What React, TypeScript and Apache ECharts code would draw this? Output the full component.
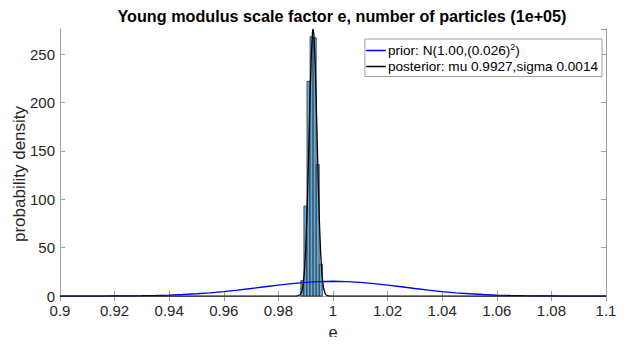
import React, { useEffect, useRef } from "react";
import * as echarts from "echarts";

// Histogram of posterior particles: bin left edge, bin right edge, density
const binLeft = [0.9882, 0.98933, 0.99046, 0.99159, 0.99272, 0.99385, 0.99498];
const binRight = [0.98933, 0.99046, 0.99159, 0.99272, 0.99385, 0.99498, 0.99611];
const binDensity = [16, 93, 222, 268, 267, 136, 33];

// Prior curve N(1.00, 0.026^2)
const priorX = [
  0.9, 0.905, 0.91, 0.915, 0.92, 0.925, 0.93, 0.935, 0.94, 0.945, 0.95, 0.955, 0.96, 0.965, 0.97, 0.975, 0.98,
  0.985, 0.99, 0.995, 1.0, 1.005, 1.01, 1.015, 1.02, 1.025, 1.03, 1.035, 1.04, 1.045, 1.05, 1.055, 1.06, 1.065,
  1.07, 1.075, 1.08, 1.085, 1.09, 1.095, 1.1,
];
const priorY = [
  0.01, 0.02, 0.04, 0.07, 0.14, 0.24, 0.41, 0.67, 1.07, 1.64, 2.41, 3.43, 4.69, 6.2, 7.86, 9.66, 11.38, 12.99,
  14.2, 15.06, 15.34, 15.06, 14.2, 12.99, 11.38, 9.66, 7.86, 6.2, 4.69, 3.43, 2.41, 1.64, 1.07, 0.67, 0.41, 0.24,
  0.14, 0.07, 0.04, 0.02, 0.01,
];

// Posterior curve
const postX = [
  0.9, 0.986, 0.987, 0.988, 0.9885, 0.989, 0.9895, 0.99, 0.9905, 0.991, 0.9915, 0.992, 0.9925, 0.9927, 0.993,
  0.9935, 0.994, 0.9945, 0.995, 0.9955, 0.996, 0.9965, 0.997, 0.9975, 0.998, 0.999, 1.1,
];
const postY = [
  0, 0.01, 0.12, 1.45, 4.2, 10.6, 24.2, 48.7, 87.3, 138.8, 196, 245.6, 273.4, 276, 270.2, 237, 184.6, 127.7,
  78.4, 42.8, 20.7, 8.9, 3.4, 1.15, 0.35, 0, 0,
];

const xTicks = { min: 0.9, max: 1.1, interval: 0.02 };
const yTicks = { min: 0, max: 276, interval: 50 };

const FONT = "'Liberation Sans', Arial, Helvetica, sans-serif";
const AXIS_GRAY = "#a0a0a0";
const TEXT = "#262626";

export default function App() {
  const ref = useRef<HTMLDivElement>(null);

  useEffect(() => {
    if (!ref.current) return;
    const chart = echarts.init(ref.current, undefined, { renderer: "svg" });

    const histData = binLeft.map((l, i) => [l, binRight[i], binDensity[i]]);
    const priorData = priorX.map((x, i) => [x, priorY[i]]);
    const postData = postX.map((x, i) => [x, postY[i]]);

    const fmtX = (v: number) => String(parseFloat(v.toFixed(2)));
    const fmtY = (v: number) => (Math.abs(v % 50) < 1e-6 ? String(v) : "");

    chart.setOption({
      animation: false,
      backgroundColor: "#ffffff",
      textStyle: { fontFamily: FONT },
      title: {
        text: "Young modulus scale factor e, number of particles (1e+05)",
        left: 337,
        textAlign: "center",
        top: 3,
        textStyle: { fontFamily: FONT, fontSize: 16.2, fontWeight: "bold", color: "#000" },
      },
      grid: { left: 60, right: 27, top: 29, bottom: 44, containLabel: false },
      graphic: [
        {
          type: "text",
          x: 19,
          y: 174,
          rotation: Math.PI / 2,
          style: {
            text: "probability density",
            fontFamily: FONT,
            fontSize: 17,
            fill: TEXT,
            textAlign: "center",
            textVerticalAlign: "middle",
          },
        },
      ],
      legend: {
        orient: "vertical",
        right: 31,
        top: 39,
        data: ["prior", "posterior"],
        icon: "rect",
        itemWidth: 20,
        itemHeight: 1.5,
        itemGap: 2,
        padding: [3, 4, 3, 1],
        borderColor: AXIS_GRAY,
        borderWidth: 1,
        backgroundColor: "#fff",
        selectedMode: false,
        formatter: (name: string) =>
          name === "prior"
            ? "{t|prior: N(1.00,(0.026)}{s|2}{t|)}"
            : "{t|posterior: mu 0.9927,sigma 0.0014}",
        textStyle: {
          fontFamily: FONT,
          color: "#000",
          fontSize: 13.6,
          padding: [0, 0, 0, -3],
          rich: {
            t: { fontFamily: FONT, fontSize: 13.6, color: "#000", lineHeight: 17 },
            s: { fontFamily: FONT, fontSize: 9, color: "#000", verticalAlign: "top", lineHeight: 17, padding: [0, 0, 6, 0] },
          },
        },
      },
      xAxis: [
        {
          type: "value",
          min: xTicks.min,
          max: xTicks.max,
          interval: xTicks.interval,
          name: "e",
          nameLocation: "middle",
          nameGap: 23,
          nameTextStyle: { fontFamily: FONT, fontSize: 16.5, color: TEXT },
          axisLine: { show: true, lineStyle: { color: "#808080", width: 1 } },
          axisTick: { show: true, inside: true, length: 5, lineStyle: { color: AXIS_GRAY } },
          axisLabel: { fontFamily: FONT, fontSize: 15, color: TEXT, margin: 7, formatter: fmtX },
          splitLine: { show: false },
        },
        {
          type: "value",
          position: "top",
          min: xTicks.min,
          max: xTicks.max,
          interval: xTicks.interval,
          axisLine: { show: true, lineStyle: { color: AXIS_GRAY, width: 1 } },
          axisTick: { show: true, inside: true, length: 5, lineStyle: { color: AXIS_GRAY } },
          axisLabel: { show: false },
          splitLine: { show: false },
        },
      ],
      yAxis: [
        {
          type: "value",
          min: yTicks.min,
          max: yTicks.max,
          interval: yTicks.interval,
          axisLine: { show: true, lineStyle: { color: AXIS_GRAY, width: 1 } },
          axisTick: { show: true, inside: true, length: 5, lineStyle: { color: AXIS_GRAY } },
          axisLabel: { fontFamily: FONT, fontSize: 15, color: TEXT, margin: 5, formatter: fmtY, showMaxLabel: false },
          splitLine: { show: false },
        },
        {
          type: "value",
          position: "right",
          min: yTicks.min,
          max: yTicks.max,
          interval: yTicks.interval,
          axisLine: { show: true, lineStyle: { color: AXIS_GRAY, width: 1 } },
          axisTick: { show: true, inside: true, length: 5, lineStyle: { color: AXIS_GRAY } },
          axisLabel: { show: false },
          splitLine: { show: false },
        },
      ],
      series: [
        {
          name: "histogram",
          type: "custom",
          xAxisIndex: 0,
          yAxisIndex: 0,
          data: histData,
          encode: { x: [0, 1], y: 2 },
          renderItem: (params: any, api: any) => {
            const l = api.value(0);
            const r = api.value(1);
            const v = api.value(2);
            const p0 = api.coord([l, 0]);
            const p1 = api.coord([r, v]);
            return {
              type: "rect",
              shape: { x: p0[0], y: p1[1], width: p1[0] - p0[0], height: p0[1] - p1[1] },
              style: { fill: "#66aad7", stroke: "#000", lineWidth: 0.6 },
            };
          },
          z: 1,
        },
        {
          name: "prior",
          type: "line",
          xAxisIndex: 0,
          yAxisIndex: 0,
          data: priorData,
          showSymbol: false,
          color: "#0000ff",
          lineStyle: { color: "#0000ff", width: 1.3 },
          z: 3,
        },
        {
          name: "posterior",
          type: "line",
          xAxisIndex: 0,
          yAxisIndex: 0,
          data: postData,
          showSymbol: false,
          color: "#000000",
          lineStyle: { color: "#000000", width: 1.3 },
          z: 4,
        },
      ],
    });

    return () => chart.dispose();
  }, []);

  return <div ref={ref} style={{ width: 633, height: 345, margin: -8 }} />;
}
